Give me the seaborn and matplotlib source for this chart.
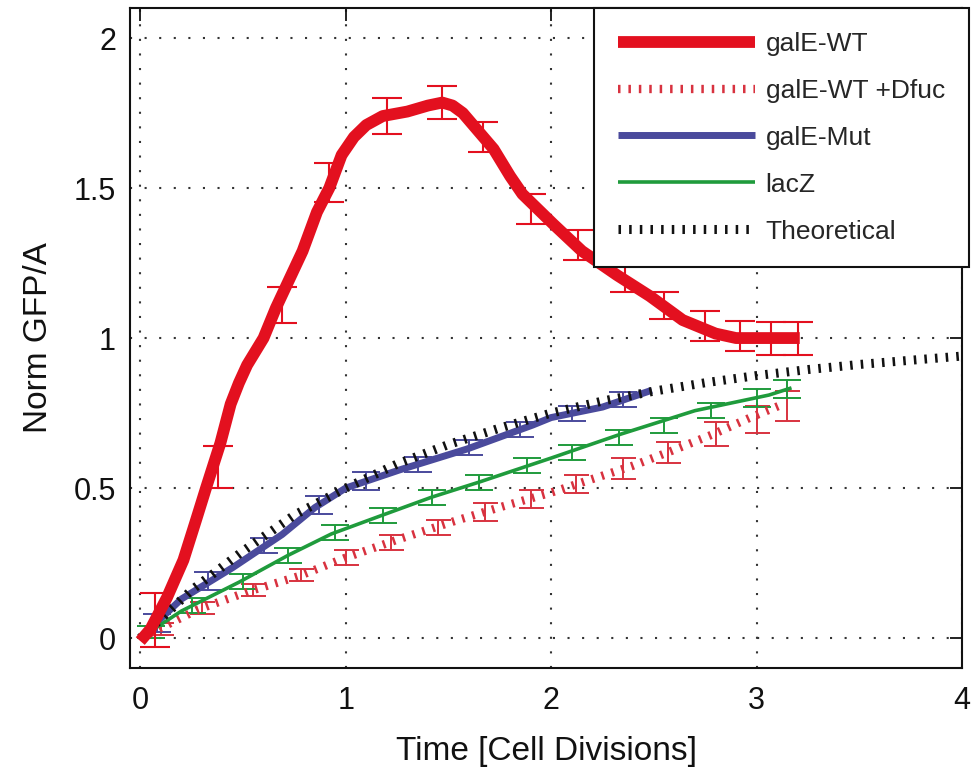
import matplotlib
matplotlib.use("Agg")
import matplotlib.pyplot as plt
import seaborn as sns
import pandas as pd

# ---------------- data ----------------
wt_x = [0.0, 0.05, 0.13, 0.21, 0.27, 0.32, 0.39, 0.44, 0.48, 0.52, 0.60, 0.66, 0.79, 0.86,
        0.92, 0.98, 1.04, 1.10, 1.18, 1.30, 1.40, 1.47, 1.52, 1.57, 1.62, 1.72, 1.80, 1.86,
        2.01, 2.15, 2.32, 2.48, 2.64, 2.80, 2.90, 3.00, 3.21]
wt_y = [-0.01, 0.03, 0.135, 0.26, 0.39, 0.50, 0.65, 0.78, 0.85, 0.91, 1.00, 1.10, 1.29, 1.42,
        1.50, 1.61, 1.67, 1.71, 1.74, 1.755, 1.775, 1.785, 1.775, 1.75, 1.71, 1.63, 1.54, 1.48,
        1.38, 1.29, 1.21, 1.14, 1.06, 1.015, 1.0, 1.0, 1.0]
wt_ex = [0.07, 0.38, 0.69, 0.92, 1.20, 1.47, 1.67, 1.90, 2.13, 2.36, 2.55, 2.75, 2.92, 3.07, 3.20]
wt_ey = [0.06, 0.57, 1.11, 1.52, 1.74, 1.785, 1.67, 1.43, 1.31, 1.20, 1.11, 1.04, 1.008, 1.0, 1.0]
wt_err = [0.09, 0.07, 0.06, 0.065, 0.06, 0.055, 0.05, 0.05, 0.05, 0.045, 0.045, 0.05, 0.05, 0.055, 0.055]

dfuc_x = [0.0, 0.28, 0.53, 0.77, 1.0, 1.26, 1.53, 1.77, 2.0, 2.2, 2.4, 2.59, 2.79, 2.97, 3.13]
dfuc_y = [0.0, 0.095, 0.156, 0.206, 0.268, 0.33, 0.39, 0.44, 0.485, 0.53, 0.575, 0.625, 0.68, 0.735, 0.78]
dfuc_ex = [0.1, 0.3, 0.55, 0.78, 1.0, 1.22, 1.45, 1.68, 1.9, 2.12, 2.35, 2.57, 2.8, 3.0, 3.15]
dfuc_ey = [0.03, 0.10, 0.16, 0.21, 0.268, 0.32, 0.37, 0.42, 0.465, 0.515, 0.565, 0.62, 0.68, 0.73, 0.775]
dfuc_err = [0.02, 0.02, 0.02, 0.02, 0.025, 0.025, 0.025, 0.03, 0.03, 0.03, 0.035, 0.035, 0.04, 0.045, 0.05]

mut_x = [0.0, 0.2, 0.45, 0.69, 0.85, 1.0, 1.26, 1.59, 1.91, 2.0, 2.25, 2.49]
mut_y = [0.0, 0.13, 0.235, 0.345, 0.435, 0.50, 0.56, 0.63, 0.71, 0.735, 0.77, 0.826]
mut_ex = [0.08, 0.33, 0.60, 0.87, 1.10, 1.35, 1.60, 1.85, 2.10, 2.35]
mut_ey = [0.05, 0.19, 0.31, 0.445, 0.525, 0.58, 0.635, 0.695, 0.75, 0.795]
mut_err = [0.03, 0.03, 0.025, 0.03, 0.03, 0.025, 0.025, 0.025, 0.025, 0.025]

lac_x = [0.0, 0.2, 0.48, 0.72, 0.93, 1.18, 1.42, 1.65, 2.0, 2.34, 2.70, 3.06, 3.17]
lac_y = [0.0, 0.09, 0.186, 0.276, 0.347, 0.41, 0.47, 0.52, 0.60, 0.68, 0.758, 0.81, 0.834]
lac_ex = [0.05, 0.25, 0.5, 0.72, 0.95, 1.18, 1.42, 1.65, 1.88, 2.1, 2.33, 2.55, 2.78, 3.0, 3.15]
lac_ey = [0.02, 0.11, 0.19, 0.276, 0.353, 0.41, 0.47, 0.52, 0.575, 0.62, 0.67, 0.71, 0.76, 0.80, 0.83]
lac_err = [0.02, 0.025, 0.025, 0.025, 0.025, 0.025, 0.025, 0.025, 0.025, 0.025, 0.025, 0.025, 0.025, 0.03, 0.03]

theo_x = [0.0, 0.25, 0.5, 0.75, 1.0, 1.25, 1.5, 1.75, 2.0, 2.25, 2.5, 2.75, 3.0, 3.25, 3.5, 3.75, 4.0]
theo_y = [0.0, 0.16, 0.29, 0.41, 0.50, 0.58, 0.645, 0.70, 0.75, 0.79, 0.823, 0.851, 0.875, 0.895, 0.912, 0.926, 0.94]

labels = ["galE-WT", "galE-WT +Dfuc", "galE-Mut", "lacZ", "Theoretical"]
xticks = [0, 1, 2, 3, 4]
yticks = [0, 0.5, 1, 1.5, 2]

# ---------------- style ----------------
sns.set_theme(style="white")
plt.rcParams["font.family"] = ["Liberation Sans", "DejaVu Sans"]
plt.rcParams["lines.solid_capstyle"] = "butt"
plt.rcParams["lines.dash_capstyle"] = "butt"

RED = "#e3101f"
DFUC = "#d8323f"
BLUE = "#4a4a9c"
GREEN = "#1f9b3c"
BLACK = "#111111"

fig = plt.figure(figsize=(9.76, 7.67), dpi=100)
ax = fig.add_axes([0.1332, 0.129, 0.8525, 0.8605])

def df(x, y):
    return pd.DataFrame({"x": x, "y": y})

# error bars (drawn beneath the lines)
ax.errorbar(dfuc_ex, dfuc_ey, yerr=dfuc_err, fmt="none", ecolor=DFUC, elinewidth=1.4,
            capsize=9, capthick=1.4, zorder=3)
ax.errorbar(lac_ex, lac_ey, yerr=lac_err, fmt="none", ecolor=GREEN, elinewidth=1.4,
            capsize=10, capthick=1.4, zorder=3)
ax.errorbar(mut_ex, mut_ey, yerr=mut_err, fmt="none", ecolor=BLUE, elinewidth=1.4,
            capsize=10, capthick=1.4, zorder=3)
ax.errorbar(wt_ex, wt_ey, yerr=wt_err, fmt="none", ecolor=RED, elinewidth=1.5,
            capsize=11, capthick=1.5, zorder=3)

sns.lineplot(data=df(wt_x, wt_y), x="x", y="y", ax=ax, color=RED, lw=8.5,
             label=labels[0], zorder=6, solid_joinstyle="round")
sns.lineplot(data=df(dfuc_x, dfuc_y), x="x", y="y", ax=ax, color=DFUC, lw=6,
             linestyle=(0, (0.3, 0.95)), label=labels[1], zorder=4)
sns.lineplot(data=df(mut_x, mut_y), x="x", y="y", ax=ax, color=BLUE, lw=5,
             label=labels[2], zorder=4, solid_joinstyle="round")
sns.lineplot(data=df(lac_x, lac_y), x="x", y="y", ax=ax, color=GREEN, lw=2.6,
             label=labels[3], zorder=4)
sns.lineplot(data=df(theo_x, theo_y), x="x", y="y", ax=ax, color=BLACK, lw=6.5,
             linestyle=(0, (0.28, 0.9)), label=labels[4], zorder=5)

ax.set_xlim(-0.05, 4.0)
ax.set_ylim(-0.1, 2.1)
ax.set_xticks(xticks)
ax.set_xticklabels([str(t) for t in xticks])
ax.set_yticks(yticks)
ax.set_yticklabels(["0", "0.5", "1", "1.5", "2"])

ax.grid(True, color="#333333", linestyle=(0, (1, 6)), linewidth=1.5)
ax.tick_params(direction="in", top=True, right=True, length=9, width=1.3,
               labelsize=22, colors="#111111")
ax.tick_params(axis="x", pad=13)
ax.tick_params(axis="y", pad=10)
for s in ax.spines.values():
    s.set_color("#111111")
    s.set_linewidth(1.5)

ax.set_xlabel("Time [Cell Divisions]", fontsize=24, color="#111111", labelpad=14)
ax.set_ylabel("Norm GFP/A", fontsize=24, color="#111111", labelpad=14)

leg = ax.legend(loc="upper right", bbox_to_anchor=(1.008, 1.0), borderaxespad=0,
                fontsize=19, handlelength=5.2, handletextpad=0.4, labelspacing=0.87,
                borderpad=0.9, frameon=True, fancybox=False, framealpha=1)
leg.get_frame().set_edgecolor("#111111")
leg.get_frame().set_linewidth(1.5)
leg.set_zorder(10)

fig.savefig("out.png", dpi=100)
